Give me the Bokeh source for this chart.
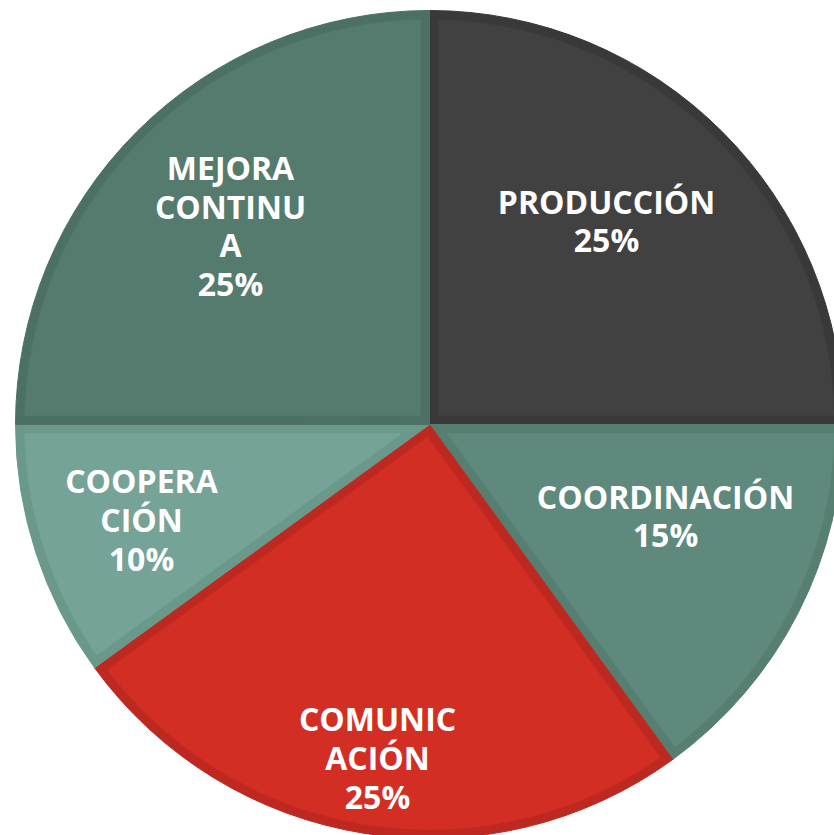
import numpy as np
from bokeh.plotting import figure
from bokeh.models import Range1d, ColumnDataSource
from bokeh.core.properties import value
from bokeh.embed import file_html
from bokeh.resources import INLINE

# ---- data ----
categories = ["PRODUCCIÓN", "COORDINACIÓN", "COMUNICACIÓN", "COOPERACIÓN", "MEJORA CONTINUA"]
percent = [25, 15, 25, 10, 25]
label_text = ["PRODUCCIÓN\n25%", "COORDINACIÓN\n15%", "COMUNIC\nACIÓN\n25%",
              "COOPERA\nCIÓN\n10%", "MEJORA\nCONTINU\nA\n25%"]

# ---- style ----
fill_colors = ["#414141", "#5e897c", "#d22e23", "#75a397", "#557a6e"]
edge_colors = ["#393939", "#567f72", "#bd2921", "#6a988b", "#4d7064"]
label_offsets = [(177, 204), (236, -91), (-52, -333), (-288, -95), (-199, 199)]

W, H = 834, 835
cx, cy = 429, H - 424
R = 414
D = 9

vals = np.array(percent, dtype=float)
cum = np.concatenate([[0], np.cumsum(vals)]) / vals.sum()
start_deg = 90 - 360 * cum[1:]   # clockwise from 12 o'clock
end_deg = 90 - 360 * cum[:-1]
start = np.deg2rad(start_deg)
end = np.deg2rad(end_deg)

p = figure(width=W, height=H, x_range=Range1d(0, W), y_range=Range1d(0, H),
           output_backend="svg", toolbar_location=None, min_border=0)
p.axis.visible = False
p.grid.visible = False
p.outline_line_color = None
p.background_fill_color = "white"
p.border_fill_color = "white"

outer = ColumnDataSource(dict(start=start, end=end, edge=edge_colors, cat=categories))
p.wedge(x=cx, y=cy, radius=R, start_angle="start", end_angle="end", source=outer,
        fill_color="edge", line_color="edge", line_width=1)

xs, ys = [], []
for a0, a1 in zip(start, end):
    th = a1 - a0
    mid = (a0 + a1) / 2
    apex = D / np.sin(th / 2)
    Ri = R - D
    phi = np.arcsin(D / Ri)
    ang = np.linspace(a0 + phi, a1 - phi, 120)
    xs.append(np.concatenate([[cx + apex * np.cos(mid)], cx + Ri * np.cos(ang)]))
    ys.append(np.concatenate([[cy + apex * np.sin(mid)], cy + Ri * np.sin(ang)]))

inner = ColumnDataSource(dict(xs=xs, ys=ys, fill=fill_colors))
p.patches(xs="xs", ys="ys", source=inner, fill_color="fill", line_color="fill", line_width=0.5)

lx = [cx + o[0] for o in label_offsets]
ly = [cy + o[1] for o in label_offsets]
lab = ColumnDataSource(dict(x=lx, y=ly, t=label_text))
p.text(x="x", y="y", text="t", source=lab, text_color="white",
       text_font=value("Open Sans"), text_font_style="bold", text_font_size="32px",
       text_align="center", text_baseline="middle", text_line_height=0.9)

open("out.html", "w").write(file_html(p, INLINE))
